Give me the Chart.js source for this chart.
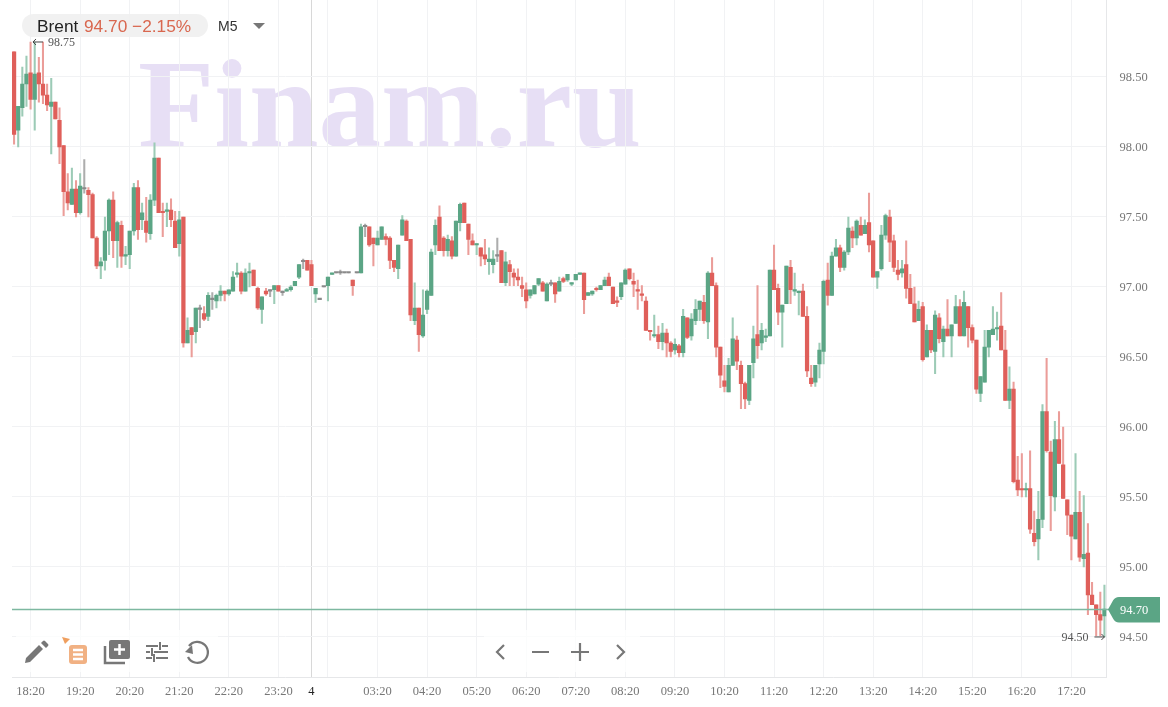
<!DOCTYPE html>
<html>
<head>
<meta charset="utf-8">
<title>Brent M5</title>
<script src="https://cdn.jsdelivr.net/npm/chart.js@4"></script>
<style>
  html, body { margin: 0; padding: 0; background: #fff; }
  #wrap { position: relative; width: 1168px; height: 707px; overflow: hidden; }
  #chart { position: absolute; left: 0; top: 0; filter: blur(0.3px); }
  .patch { position: absolute; background: rgba(255, 255, 255, 0.72); }
  #pill { position: absolute; left: 22px; top: 14px; width: 186px; height: 23px; border-radius: 12px; background: rgba(240, 240, 240, 0.9); }
  .head { position: absolute; top: 15px; line-height: 22px; font-family: "Liberation Sans", sans-serif; white-space: pre; }
  #icons { position: absolute; left: 0; top: 0; }
</style>
</head>
<body>
<div id="wrap">
  <canvas id="chart" width="1168" height="707"></canvas>
  <div class="patch" style="left:16px;top:630px;width:202px;height:42px"></div>
  <div class="patch" style="left:484px;top:630px;width:156px;height:42px"></div>
  <div id="pill"></div>
  <div class="head" style="left:37px;font-size:17.300px;color:#222">Brent</div>
  <div class="head" style="left:84px;font-size:17.300px;color:#d9674f">94.70 −2.15%</div>
  <div class="head" style="left:218px;font-size:14px;color:#333">M5</div>
  <svg id="icons" width="1168" height="707">
    <path d="M253 23h12l-6 6z" fill="#777"/>
    <!-- pencil -->
    <path d="M26 658l13-13 4 4-13 13-5 1zM41 643l2-2q1-1 2 0l3 3q1 1 0 2l-2 2z" fill="#777"/>
    <!-- orange list -->
    <path d="M62 637l8 2-5 5z" fill="#ef9f5f"/>
    <rect x="69" y="645" width="18" height="19" rx="3" fill="#f1b183"/>
    <path d="M73 650h10M73 654.500h10M73 659h10" stroke="#fff" stroke-width="2.400"/>
    <!-- layers with plus -->
    <path d="M105 646v17h20" fill="none" stroke="#777" stroke-width="2.500"/>
    <rect x="109" y="640" width="21" height="19" rx="2" fill="#777"/>
    <path d="M119.500 644v11M114 649.500h11" stroke="#fff" stroke-width="2.500"/>
    <!-- sliders -->
    <path d="M146 646h12M162 646h6M146 652h4M154 652h14M146 658h6M156 658h12M160 642v8M152 648v8M154 654v8" stroke="#777" stroke-width="2" fill="none"/>
    <!-- undo -->
    <path d="M189 646a10.500 10.500 0 1 1 -1 11" fill="none" stroke="#777" stroke-width="2.300"/>
    <path d="M185 652l7-7 1 9z" fill="#777"/>
    <!-- navigation -->
    <path d="M504 645l-7 7 7 7M532 652h17M580 643v18M571 652h18M617 645l7 7-7 7" fill="none" stroke="#777" stroke-width="2.200"/>
  </svg>
</div>

<script>
const opens = [
  98.68,98.12,98.28,98.45,98.53,98.34,98.53,98.45,98.37,98.29,
  98.32,98.19,98.01,97.68,97.59,97.70,97.53,97.70,97.69,97.66,
  97.35,97.15,97.19,97.40,97.62,97.33,97.44,97.22,97.23,97.40,
  97.71,97.48,97.47,97.38,97.62,97.92,97.54,97.54,97.55,97.47,
  97.31,97.50,96.60,96.71,96.68,96.84,96.81,96.79,96.91,96.90,
  96.94,96.97,96.95,96.97,97.09,97.10,96.97,97.10,97.12,96.99,
  96.84,96.97,96.97,96.98,97.01,96.96,96.97,96.98,97.01,97.07,
  97.18,97.19,97.16,96.95,96.91,97.00,97.01,97.09,97.10,97.10,
  97.10,97.10,97.05,97.10,97.10,97.43,97.43,97.35,97.30,97.34,
  97.36,97.35,97.19,97.13,97.37,97.47,97.34,96.76,96.85,96.65,
  96.84,96.94,97.30,97.50,97.35,97.26,97.33,97.22,97.46,97.60,
  97.45,97.33,97.30,97.28,97.23,97.18,97.16,97.22,97.26,97.03,
  97.16,97.10,97.07,97.01,96.98,96.94,96.95,97.02,97.03,96.90,
  97.02,97.03,96.97,97.06,97.05,97.02,97.05,97.09,97.10,96.94,
  96.95,96.99,96.98,97.01,97.07,97.00,96.90,96.93,97.02,97.13,
  97.04,96.98,96.95,96.90,96.69,96.65,96.66,96.61,96.67,96.60,
  96.55,96.58,96.53,96.78,96.65,96.76,96.84,96.89,96.75,97.10,
  97.01,96.57,96.33,96.25,96.44,96.62,96.44,96.31,96.19,96.46,
  96.66,96.60,96.64,96.65,97.12,96.99,96.82,96.88,97.14,96.97,
  96.96,96.97,96.79,96.35,96.32,96.45,96.54,97.05,96.94,97.22,
  97.28,97.14,97.25,97.40,97.35,97.44,97.38,97.46,97.33,97.07,
  97.13,97.37,97.50,97.33,97.12,97.10,97.16,96.99,96.88,96.76,
  96.86,96.50,96.69,96.54,96.78,96.61,96.70,96.65,96.74,96.86,
  96.65,96.86,96.71,96.62,96.24,96.32,96.57,96.66,96.70,96.72,
  96.55,96.19,96.27,95.62,95.56,95.55,95.56,95.24,95.20,95.34,
  96.11,95.82,95.50,95.91,95.73,95.48,95.37,95.20,95.39,95.06,
  95.10,94.80,94.73,94.66,94.65
];
const highs = [
  98.68,98.29,98.57,98.65,98.75,98.75,98.64,98.75,98.45,98.49,
  98.32,98.28,98.01,97.81,97.85,97.76,97.81,97.91,97.71,97.67,
  97.36,97.21,97.50,97.63,97.68,97.47,97.47,97.29,97.40,97.74,
  97.76,97.60,97.64,97.66,98.03,97.92,97.60,97.60,97.63,97.54,
  97.54,97.50,96.78,96.71,96.85,96.87,96.86,96.96,96.96,96.95,
  97.01,96.97,96.98,97.11,97.17,97.11,97.13,97.17,97.12,97.00,
  96.93,96.99,96.98,97.01,97.01,96.97,96.99,97.01,97.04,97.16,
  97.20,97.19,97.19,96.99,96.91,97.00,97.07,97.10,97.10,97.12,
  97.10,97.10,97.05,97.10,97.45,97.45,97.43,97.35,97.40,97.43,
  97.38,97.36,97.19,97.30,97.51,97.48,97.34,97.03,96.85,96.98,
  96.98,97.27,97.48,97.58,97.36,97.37,97.36,97.47,97.60,97.60,
  97.45,97.38,97.31,97.28,97.34,97.28,97.26,97.35,97.26,97.25,
  97.19,97.13,97.13,97.07,97.03,96.98,97.01,97.06,97.04,97.03,
  97.05,97.03,97.07,97.07,97.09,97.03,97.09,97.10,97.10,96.96,
  96.97,97.00,97.01,97.07,97.10,97.00,96.93,97.03,97.13,97.13,
  97.10,97.05,97.01,96.93,96.69,96.80,96.72,96.74,96.70,96.61,
  96.63,96.59,96.84,96.78,96.81,96.91,96.90,96.94,97.11,97.21,
  97.03,96.57,96.44,96.49,96.78,96.65,96.47,96.32,96.44,96.72,
  97.01,96.74,96.70,97.12,97.30,97.02,96.87,97.15,97.19,97.10,
  96.97,97.02,96.86,96.44,96.44,96.60,97.05,97.17,97.25,97.34,
  97.30,97.26,97.50,97.43,97.48,97.50,97.48,97.67,97.33,97.11,
  97.44,97.52,97.55,97.37,97.19,97.19,97.33,97.09,97.00,96.90,
  96.89,96.73,96.69,96.83,96.81,96.72,96.91,96.73,96.94,96.91,
  96.97,96.86,96.73,96.62,96.36,96.69,96.69,96.86,96.82,96.96,
  96.69,96.43,96.32,95.79,95.81,95.60,95.83,95.40,95.54,96.16,
  96.49,95.90,96.04,96.11,96.00,95.48,95.37,95.81,95.54,95.51,
  95.31,94.89,94.73,94.82,94.87
];
const lows = [
  98.02,98.00,98.22,98.29,98.27,98.12,98.32,98.31,98.26,97.95,
  98.20,97.88,97.51,97.55,97.59,97.50,97.52,97.67,97.50,97.35,
  97.13,97.06,97.12,97.23,97.21,97.14,97.14,97.16,97.13,97.37,
  97.34,97.41,97.32,97.34,97.58,97.53,97.36,97.43,97.43,97.28,
  97.22,96.57,96.60,96.50,96.60,96.71,96.76,96.76,96.84,96.85,
  96.90,96.90,96.94,96.97,97.07,96.95,96.97,97.00,97.01,96.84,
  96.74,96.94,96.93,96.88,96.97,96.94,96.97,96.97,97.01,97.06,
  97.13,97.12,97.01,96.89,96.91,97.00,96.90,97.09,97.10,97.09,
  97.10,97.10,96.94,97.10,97.10,97.36,97.29,97.15,97.30,97.34,
  97.30,97.13,97.11,97.06,97.37,97.33,96.76,96.73,96.54,96.64,
  96.81,96.94,97.23,97.26,97.22,97.22,97.20,97.22,97.40,97.46,
  97.23,97.30,97.23,97.15,97.16,97.09,97.10,97.18,97.03,97.01,
  97.01,97.01,97.01,96.93,96.85,96.92,96.95,97.01,96.97,96.90,
  97.01,96.89,96.97,97.03,97.04,97.01,97.05,97.09,96.81,96.94,
  96.94,96.97,96.98,97.01,97.01,96.88,96.86,96.91,97.02,97.05,
  96.93,96.84,96.90,96.69,96.62,96.64,96.56,96.55,96.50,96.50,
  96.52,96.50,96.50,96.63,96.62,96.73,96.76,96.74,96.63,97.01,
  96.50,96.28,96.25,96.25,96.44,96.41,96.13,96.13,96.16,96.35,
  96.49,96.55,96.61,96.65,96.98,96.73,96.57,96.88,96.88,96.94,
  96.80,96.79,96.36,96.29,96.29,96.35,96.45,96.87,96.94,97.22,
  97.11,97.12,97.23,97.28,97.30,97.37,97.38,97.25,97.07,96.99,
  97.12,97.34,97.18,97.11,97.05,97.07,96.92,96.88,96.75,96.76,
  96.47,96.50,96.53,96.38,96.60,96.50,96.65,96.50,96.74,96.65,
  96.65,96.57,96.60,96.24,96.18,96.32,96.50,96.66,96.62,96.55,
  96.19,96.13,95.60,95.51,95.50,95.50,95.24,95.15,95.05,95.28,
  95.82,95.26,95.40,95.74,95.49,95.23,95.05,95.20,95.04,95.00,
  94.66,94.73,94.51,94.51,94.50
];
const closes = [
  98.09,98.29,98.45,98.52,98.34,98.52,98.45,98.37,98.30,98.32,
  98.20,98.00,97.68,97.60,97.70,97.53,97.72,97.70,97.66,97.35,
  97.15,97.18,97.40,97.62,97.33,97.46,97.22,97.23,97.40,97.71,
  97.41,97.53,97.39,97.62,97.92,97.53,97.53,97.55,97.48,97.28,
  97.48,96.60,96.69,96.66,96.85,96.84,96.77,96.94,96.91,96.94,
  96.97,96.95,96.98,97.07,97.10,96.97,97.10,97.11,97.01,96.85,
  96.93,96.95,96.97,97.01,96.97,96.96,96.98,97.00,97.04,97.16,
  97.18,97.12,97.01,96.99,96.91,97.00,97.07,97.10,97.10,97.10,
  97.10,97.10,97.01,97.10,97.43,97.43,97.30,97.31,97.35,97.43,
  97.34,97.19,97.14,97.30,97.48,97.33,96.80,96.85,96.66,96.80,
  96.97,97.25,97.44,97.26,97.26,97.34,97.22,97.47,97.59,97.46,
  97.34,97.30,97.31,97.22,97.20,97.20,97.20,97.22,97.03,97.18,
  97.11,97.07,97.05,96.99,96.90,96.98,97.01,97.06,96.97,97.02,
  97.02,96.95,97.04,97.04,97.09,97.03,97.09,97.10,96.91,96.96,
  96.97,96.98,97.01,97.05,97.01,96.88,96.89,97.03,97.12,97.06,
  97.02,96.97,96.94,96.69,96.68,96.66,96.61,96.67,96.60,96.54,
  96.59,96.53,96.79,96.64,96.77,96.84,96.90,96.76,97.10,97.01,
  96.57,96.37,96.29,96.44,96.63,96.47,96.31,96.20,96.44,96.63,
  96.58,96.69,96.65,97.12,96.98,96.82,96.87,97.15,96.98,96.98,
  96.97,96.79,96.40,96.31,96.44,96.55,97.04,96.94,97.22,97.28,
  97.14,97.25,97.42,97.35,97.47,97.37,97.44,97.30,97.07,97.11,
  97.37,97.51,97.32,97.14,97.09,97.13,96.99,96.88,96.75,96.84,
  96.48,96.69,96.55,96.80,96.63,96.70,96.65,96.73,96.86,96.65,
  96.89,96.71,96.62,96.27,96.36,96.57,96.69,96.70,96.71,96.55,
  96.19,96.27,95.61,95.55,95.55,95.56,95.27,95.18,95.34,96.11,
  95.83,95.51,95.91,95.74,95.49,95.37,95.22,95.39,95.07,95.09,
  94.80,94.73,94.66,94.62,94.70
];

const yTicks = [94.5, 95, 95.5, 96, 96.5, 97, 97.5, 98, 98.5];
const xTickIndex = [4, 16, 28, 40, 52, 64, 72, 76, 88, 100, 112, 124, 136, 148, 160, 172, 184, 196, 208, 220, 232, 244, 256];
const xTickLabels = ['18:20', '19:20', '20:20', '21:20', '22:20', '23:20', '4', '', '03:20', '04:20', '05:20', '06:20', '07:20', '08:20', '09:20', '10:20', '11:20', '12:20', '13:20', '14:20', '15:20', '16:20', '17:20'];
const lastPrice = 94.70;
const maxPrice = 98.75;
const minPrice = 94.50;
const maxIndex = 7;
const minIndex = 264;
const DATE_TICK = 72;

const UP = '#5ba585', DOWN = '#df5f5a', FLAT = '#8a8a8a';
const UP_WICK = '#9ccbb6', DOWN_WICK = '#eb9d99', FLAT_WICK = '#adadad';
const GRID = '#f1f2f4';
const LABEL_FONT = '"Liberation Serif", serif';

function pickColor(i, up, down, flat) {
  if (closes[i] > opens[i]) return up;
  if (closes[i] < opens[i]) return down;
  return flat;
}

const labels = opens.map((_, i) => i);

const watermark = {
  id: 'watermark',
  beforeDraw(chart) {
    const ctx = chart.ctx;
    ctx.save();
    ctx.fillStyle = '#e7dff5';
    ctx.font = 'bold 125px "Liberation Serif", serif';
    ctx.textBaseline = 'alphabetic';
    ctx.fillText('Finam.ru', 138, 146);
    ctx.restore();
  }
};

const priceMarks = {
  id: 'priceMarks',
  afterDatasetsDraw(chart) {
    const ctx = chart.ctx;
    const x = chart.scales.x, y = chart.scales.y;
    const area = chart.chartArea;
    ctx.save();

    // last price line and tag
    const lastY = Math.round(y.getPixelForValue(lastPrice)) + 0.5;
    ctx.strokeStyle = '#7db8a0';
    ctx.lineWidth = 1.4;
    ctx.beginPath();
    ctx.moveTo(area.left, lastY);
    ctx.lineTo(1112, lastY);
    ctx.stroke();

    ctx.fillStyle = '#5ba585';
    ctx.beginPath();
    ctx.moveTo(1108, lastY);
    ctx.lineTo(1113, lastY - 9);
    ctx.quadraticCurveTo(1115, lastY - 12.5, 1119, lastY - 12.5);
    ctx.lineTo(1160, lastY - 12.5);
    ctx.lineTo(1160, lastY + 13);
    ctx.lineTo(1119, lastY + 13);
    ctx.quadraticCurveTo(1115, lastY + 13, 1113, lastY + 9);
    ctx.closePath();
    ctx.fill();

    ctx.font = '12.500px ' + LABEL_FONT;
    ctx.fillStyle = '#fff';
    ctx.textAlign = 'left';
    ctx.textBaseline = 'middle';
    ctx.fillText(lastPrice.toFixed(2), 1120, lastY + 1);

    // highest and lowest price marks
    const hiX = x.getPixelForValue(maxIndex), hiY = y.getPixelForValue(maxPrice);
    const loX = x.getPixelForValue(minIndex), loY = y.getPixelForValue(minPrice);
    ctx.strokeStyle = '#444';
    ctx.lineWidth = 1;
    ctx.beginPath();
    ctx.moveTo(hiX, hiY); ctx.lineTo(hiX - 10, hiY);
    ctx.moveTo(hiX - 7, hiY - 3); ctx.lineTo(hiX - 10, hiY); ctx.lineTo(hiX - 7, hiY + 3);
    ctx.moveTo(loX - 10, loY); ctx.lineTo(loX, loY);
    ctx.moveTo(loX - 3, loY - 3); ctx.lineTo(loX, loY); ctx.lineTo(loX - 3, loY + 3);
    ctx.stroke();

    ctx.font = '12px ' + LABEL_FONT;
    ctx.fillStyle = '#555';
    ctx.fillText(maxPrice.toFixed(2), hiX + 5, hiY + 1);
    ctx.textAlign = 'right';
    ctx.fillText(minPrice.toFixed(2), loX - 16, loY + 1);
    ctx.restore();
  }
};

new Chart(document.getElementById('chart').getContext('2d'), {
  type: 'bar',
  data: {
    labels: labels,
    datasets: [{
      label: 'body',
      data: opens.map((o, i) => [Math.min(o, closes[i]), Math.max(o, closes[i])]),
      backgroundColor: opens.map((_, i) => pickColor(i, UP, DOWN, FLAT)),
      barThickness: 3.6,
      minBarLength: 1.5,
      order: 1
    }, {
      label: 'wick',
      data: highs.map((h, i) => [lows[i], h]),
      backgroundColor: opens.map((_, i) => pickColor(i, UP_WICK, DOWN_WICK, FLAT_WICK)),
      barThickness: 1.4,
      order: 2
    }]
  },
  options: {
    responsive: false,
    animation: false,
    events: [],
    layout: { padding: { left: 12, top: 0, right: 0, bottom: 0 } },
    plugins: { legend: { display: false }, tooltip: { enabled: false } },
    scales: {
      x: {
        stacked: true,
        offset: true,
        grid: {
          offset: false,
          drawTicks: false,
          color: ctx => (ctx.tick && ctx.tick.value === DATE_TICK ? '#d8d8d8' : GRID)
        },
        border: { display: true, color: '#e6e7e9' },
        afterBuildTicks(scale) {
          scale.ticks = xTickIndex.map(i => ({ value: i }));
        },
        afterFit(scale) {
          scale.height = 30;
          scale.paddingLeft = scale.paddingRight = 0;
        },
        ticks: {
          autoSkip: false,
          maxRotation: 0,
          padding: 7,
          font: { family: LABEL_FONT, size: 12.5 },
          color: ctx => (ctx.tick.value === DATE_TICK ? '#222' : '#777'),
          callback: function(value) {
            return xTickLabels[xTickIndex.indexOf(value)];
          }
        }
      },
      y: {
        position: 'right',
        min: 94.214,
        max: 99.05,
        grid: { drawTicks: false, color: GRID },
        border: { display: true, color: '#e6e7e9' },
        afterBuildTicks(scale) {
          scale.ticks = yTicks.map(v => ({ value: v }));
        },
        afterFit(scale) {
          scale.width = 61.5;
          scale.paddingTop = scale.paddingBottom = 0;
        },
        ticks: {
          padding: 13,
          labelOffset: 1,
          font: { family: LABEL_FONT, size: 12.5 },
          color: '#777',
          callback: value => value.toFixed(2)
        }
      }
    }
  },
  plugins: [watermark, priceMarks]
});
</script>
</body>
</html>
